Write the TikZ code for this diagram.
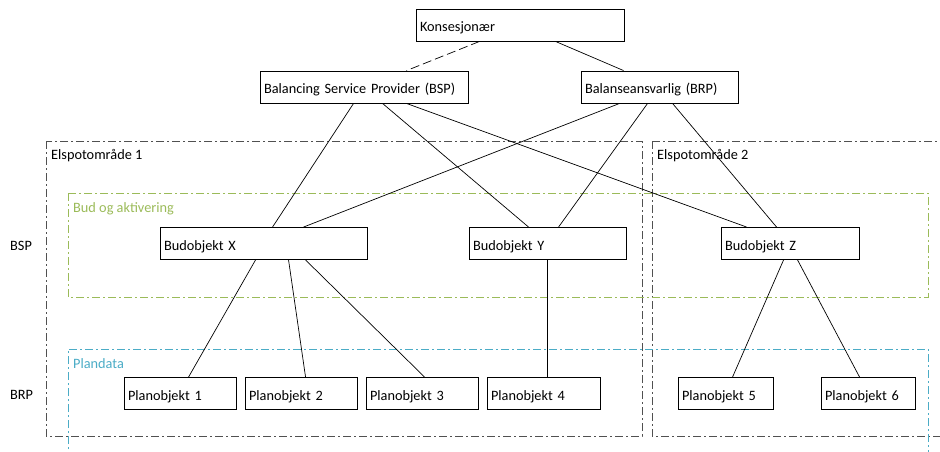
\documentclass[tikz,border=0pt]{standalone}
\usepackage{fontspec}
\setmainfont{Carlito}
\usepackage{tikz}

\definecolor{rammegraa}{HTML}{505050}
\definecolor{budgronn}{HTML}{9BBB59}
\definecolor{planblaa}{HTML}{4BACC6}

\tikzset{
    boks/.style={draw, line width=0.9pt, inner sep=4pt, text width=#1, align=left,
        text height=15pt, text depth=2pt,
        minimum height=32pt, font=\fontsize{14.3}{16}\selectfont},
    ramme/.style={line width=1pt, dash pattern=on 8pt off 3pt on 2pt off 3pt},
    tekst/.style={anchor=west, inner sep=0pt, font=\fontsize{14.3}{16}\selectfont},
    linje/.style={line width=0.7pt}
}

\begin{document}
\begin{tikzpicture}[x=1pt, y=-1pt]
    \useasboundingbox (0,0) rectangle (940,452);

    \draw[ramme, rammegraa] (46,141) rectangle (642,436);
    \draw[ramme, rammegraa] (652,141) -- (945,141);
    \draw[ramme, rammegraa] (652,141) -- (652,436) -- (945,436);
    \draw[ramme, budgronn] (68,193) rectangle (928,297);
    \draw[ramme, planblaa] (68,460) -- (68,349) -- (928,349) -- (928,460);

    \node[tekst] (elspot1) at (51,156) {Elspotområde 1};
    \node[tekst] (elspot2) at (657,156) {Elspotområde 2};
    \node[tekst, budgronn] (bud) at (73,209) {Bud og aktivering};
    \node[tekst, planblaa] (plan) at (73,363.5) {Plandata};
    \node[tekst] (bsplabel) at (10,245.5) {BSP};
    \node[tekst] (brplabel) at (10,394.5) {BRP};

    \node[boks=200pt, minimum width=208pt] (kons) at (520,25) {Konsesjonær};
    \node[boks=200pt, minimum width=208pt] (bsp) at (364,87) {Balancing Service Provider (BSP)};
    \node[boks=149pt, minimum width=157pt] (brp) at (659.5,87) {Balanseansvarlig (BRP)};

    \node[boks=199pt, minimum width=207pt] (budx) at (263.5,243.5) {Budobjekt X};
    \node[boks=149pt, minimum width=157pt] (budy) at (547.5,243.5) {Budobjekt Y};
    \node[boks=130pt, minimum width=138pt] (budz) at (790,243.5) {Budobjekt Z};

    \node[boks=104pt, minimum width=112pt] (plan1) at (180,393.5) {Planobjekt 1};
    \node[boks=104pt, minimum width=112pt] (plan2) at (301,393.5) {Planobjekt 2};
    \node[boks=104pt, minimum width=112pt] (plan3) at (422,393.5) {Planobjekt 3};
    \node[boks=105pt, minimum width=113pt] (plan4) at (543.5,393.5) {Planobjekt 4};
    \node[boks=87pt, minimum width=95pt] (plan5) at (725.5,393.5) {Planobjekt 5};
    \node[boks=86pt, minimum width=94pt] (plan6) at (868,393.5) {Planobjekt 6};

    \draw[linje, dash pattern=on 9pt off 4pt] ([xshift=64pt]kons.south west) -- ([xshift=147pt]bsp.north west);
    \draw[linje] ([xshift=140pt]kons.south west) -- ([xshift=43pt]brp.north west);

    \draw[linje] ([xshift=94pt]bsp.south west) -- ([xshift=113pt]budx.north west);
    \draw[linje] ([xshift=123pt]bsp.south west) -- ([xshift=60pt]budy.north west);
    \draw[linje] ([xshift=147pt]bsp.south west) -- ([xshift=26pt]budz.north west);
    \draw[linje] ([xshift=39pt]brp.south west) -- ([xshift=144pt]budx.north west);
    \draw[linje] ([xshift=67pt]brp.south west) -- ([xshift=90pt]budy.north west);
    \draw[linje] ([xshift=92pt]brp.south west) -- ([xshift=56pt]budz.north west);

    \draw[linje] ([xshift=96pt]budx.south west) -- ([xshift=65pt]plan1.north west);
    \draw[linje] ([xshift=129pt]budx.south west) -- ([xshift=61pt]plan2.north west);
    \draw[linje] ([xshift=146pt]budx.south west) -- ([xshift=59pt]plan3.north west);
    \draw[linje] ([xshift=79pt]budy.south west) -- ([xshift=61pt]plan4.north west);
    \draw[linje] ([xshift=63pt]budz.south west) -- ([xshift=55pt]plan5.north west);
    \draw[linje] ([xshift=77pt]budz.south west) -- ([xshift=39pt]plan6.north west);
\end{tikzpicture}
\end{document}
